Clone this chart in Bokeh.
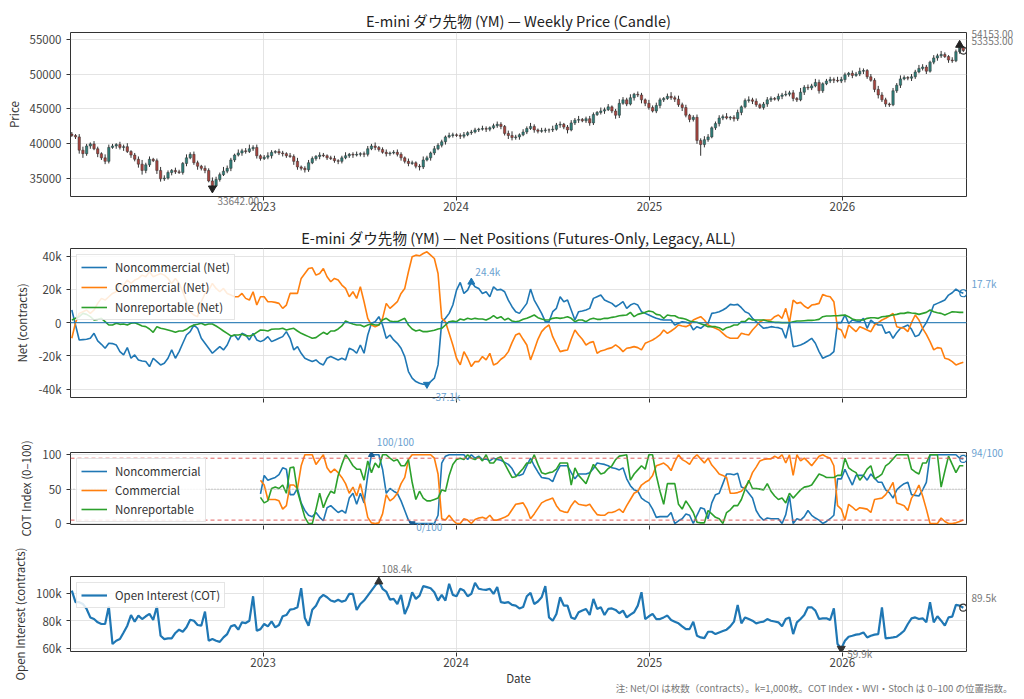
import pandas as pd
from bokeh.plotting import figure
from bokeh.models import (Range1d, FixedTicker, DatetimeTickFormatter, Span, Label,
                          Legend, LegendItem, CustomJSTickFormatter, LinearAxis, Title)
from bokeh.layouts import column
from bokeh.embed import file_html
from bokeh.resources import INLINE

FONT = "Noto Sans CJK JP"

# ---------------- data ----------------
start_date = "2022-01-04"
n_weeks = 242
cot_start = 51

close = [
    41200, 41000, 39100, 38600, 39700, 40000, 39300, 38600, 38000, 37500,
    39500, 39700, 39900, 39500, 39600, 38900, 38400, 37800, 37100, 36200,
    37000, 37800, 37600, 36200, 35000, 35100, 35900, 36200, 36000, 35900,
    37200, 38000, 38500, 37300, 36800, 36500, 36200, 34700, 34000, 34900,
    35600, 36100, 36500, 37700, 38400, 38700, 39000, 38900, 39300, 39500,
    38300, 37900, 38100, 38300, 38800, 38900, 38700, 38600, 38300, 38200,
    37500, 36700, 36500, 36300, 37300, 37900, 38200, 38400, 38300, 38000,
    37900, 37600, 37500, 38000, 38300, 38500, 38400, 38500, 38600, 38500,
    39300, 39700, 39500, 39200, 38800, 38600, 38700, 38800, 38500, 38000,
    37500, 37200, 37300, 36800, 36700, 37700, 38000, 38700, 39300, 39800,
    40300, 41000, 41200, 41300, 41200, 41100, 41300, 41600, 41700, 42000,
    42100, 42200, 42100, 42300, 42600, 42800, 42500, 41500, 41200, 40900,
    41000, 41300, 41700, 42200, 42500, 42000, 41800, 41900, 42000, 42000,
    42100, 42700, 42800, 42400, 42000, 43000, 43400, 43500, 43300, 43600,
    43000, 44200, 44500, 44700, 44900, 45300, 44700, 44100, 45800, 46300,
    45700, 46600, 47100, 47000, 46300, 45800, 45200, 44700, 45500, 46300,
    46500, 46800, 46600, 46400, 45600, 45200, 44100, 43500, 43800, 40500,
    39900, 40600, 41000, 42300, 42900, 43700, 43900, 43700, 43800, 43600,
    44500, 45300, 46200, 46300, 46100, 45600, 45200, 45700, 46300, 46500,
    46400, 46800, 47000, 47100, 47300, 46500, 46300, 47400, 48100, 48000,
    48300, 48800, 47600, 48600, 49000, 49200, 49100, 49000, 49200, 49900,
    50100, 49800, 50000, 50400, 50500, 49600, 49100, 47800, 47000, 46300,
    45700, 45600, 47600, 48400, 49300, 49500, 49400, 49600, 50300, 50800,
    51000, 50400, 51700, 52300, 52600, 52800, 52500, 52000, 51900, 53200,
    53800, 53353,
]
first_open = 41400
wick_up = [
    300, 200, 400, 500, 300, 200, 400, 300, 200, 500,
    400, 300, 200, 400, 300, 500, 200, 300, 400, 600,
    300, 400, 200, 300, 500, 400, 300, 200, 400, 300,
    200, 500, 300, 400, 300, 200, 400, 300, 500, 400,
    300, 600, 400, 300, 200, 500, 300, 400, 600, 300,
    400, 200, 300, 500, 300, 200, 400, 300, 200, 400,
    300, 500, 200, 300, 400, 300, 200, 400, 300, 200,
    300, 400, 200, 300, 500, 200, 300, 400, 200, 300,
    400, 300, 500, 200, 300, 400, 200, 300, 400, 300,
    200, 400, 300, 200, 300, 500, 300, 200, 400, 300,
    300, 200, 400, 300, 200, 300, 400, 200, 300, 300,
    200, 400, 300, 200, 300, 400, 300, 200, 400, 600,
    300, 200, 400, 300, 500, 300, 200, 400, 300, 200,
    500, 300, 400, 200, 300, 400, 300, 500, 200, 300,
    400, 300, 200, 500, 300, 400, 200, 300, 600, 400,
    300, 500, 200, 400, 300, 200, 500, 300, 400, 300,
    200, 400, 600, 300, 500, 300, 400, 200, 300, 400,
    300, 500, 400, 200, 300, 400, 300, 500, 200, 300,
    400, 200, 300, 500, 300, 400, 200, 300, 400, 300,
    200, 400, 300, 500, 300, 400, 200, 600, 300, 400,
    300, 500, 400, 200, 300, 400, 300, 500, 400, 300,
    200, 400, 300, 500, 300, 200, 400, 300, 500, 400,
    300, 200, 400, 300, 500, 300, 200, 400, 300, 500,
    400, 300, 200, 400, 300, 500, 300, 200, 400, 300,
    353, 200,
]
wick_dn = [
    200, 300, 500, 600, 300, 400, 200, 500, 300, 400,
    300, 200, 400, 300, 500, 200, 400, 300, 500, 600,
    400, 300, 200, 500, 400, 300, 200, 400, 300, 200,
    300, 400, 200, 300, 500, 300, 400, 200, 358, 200,
    300, 200, 300, 400, 300, 200, 400, 300, 200, 300,
    400, 300, 200, 300, 400, 200, 300, 400, 300, 200,
    500, 400, 300, 400, 300, 200, 300, 400, 200, 300,
    200, 300, 400, 300, 200, 300, 400, 200, 300, 400,
    300, 200, 400, 300, 200, 400, 300, 200, 300, 400,
    300, 400, 200, 300, 500, 300, 200, 400, 300, 200,
    300, 400, 200, 300, 200, 400, 300, 200, 300, 200,
    300, 200, 400, 300, 200, 300, 400, 300, 500, 400,
    300, 400, 200, 300, 200, 400, 300, 200, 300, 400,
    300, 200, 400, 300, 500, 200, 300, 400, 200, 300,
    400, 300, 200, 300, 400, 200, 300, 500, 400, 200,
    300, 200, 400, 300, 500, 400, 300, 200, 300, 400,
    300, 200, 300, 400, 300, 500, 300, 400, 300, 500,
    1600, 400, 300, 200, 300, 400, 300, 200, 300, 400,
    300, 400, 200, 300, 400, 300, 200, 300, 400, 300,
    200, 300, 400, 200, 300, 400, 300, 200, 400, 300,
    300, 200, 400, 300, 200, 300, 400, 200, 300, 400,
    300, 400, 200, 300, 400, 300, 200, 400, 500, 300,
    400, 300, 200, 300, 400, 200, 300, 400, 300, 200,
    300, 400, 200, 300, 400, 300, 200, 400, 300, 200,
    300, 200,
]

# Net positions, thousands of contracts
net_noncomm = [
    7.6, -1.4, -10.4, -10.2, -10.0, -9.4, -6.4, -11.0, -13.0, -15.4,
    -12.4, -12.6, -13.4, -17.4, -19.4, -15.0, -21.4, -19.4, -22.4, -23.0,
    -23.4, -26.4, -21.4, -23.4, -25.4, -24.4, -21.4, -16.4, -21.4, -17.4,
    -12.4, -7.4, -5.4, -1.4, -3.4, -9.4, -12.4, -15.4, -18.4, -16.4,
    -14.4, -16.4, -13.4, -8.4, -7.4, -10.4, -6.4, -7.4, -10.4, -6.4,
    -10.4, -11.4, -10.4, -8.4, -11.4, -10.4, -9.4, -8.4, -5.4, -9.4,
    -16.4, -14.4, -18.4, -21.4, -22.4, -23.4, -22.4, -24.4, -25.4, -21.4,
    -20.4, -21.4, -22.4, -21.4, -22.4, -15.4, -16.4, -18.4, -13.4, -18.4,
    -7.4, -0.4, 0.6, 3.6, -1.4, -9.4, -7.4, -10.4, -12.4, -15.4,
    -20.4, -29.4, -33.4, -35.4, -36.4, -37.0, -37.1, -35.4, -33.4, -25.4,
    0.6, 2.6, 5.6, 10.6, 19.6, 24.2, 17.6, 19.6, 24.4, 21.6,
    20.6, 17.6, 18.6, 15.6, 21.6, 19.6, 20.0, 18.6, 13.6, 9.6,
    6.6, 5.6, 8.6, 11.6, 20.2, 13.6, 9.6, 5.6, 0.6, 0.6,
    6.6, 8.6, 15.6, 12.6, 13.6, 7.6, 1.6, 6.6, 7.0, 7.6,
    8.6, 14.6, 15.6, 16.6, 13.6, 12.6, 11.6, 9.6, 11.0, 12.6,
    8.6, 10.6, 11.6, 10.6, 6.6, 5.6, 4.6, 3.6, 2.6, 2.0,
    1.6, 1.6, 1.6, -1.4, -0.4, 0.6, 0.2, -0.4, -4.4, -2.4,
    -3.4, -1.6, -0.4, 5.6, 6.0, 6.6, 7.6, 9.0, 11.0, 10.6,
    11.0, 9.0, 6.6, 5.6, 2.6, 0.6, -1.4, -3.4, -3.0, -2.4,
    -2.8, -3.0, -3.8, -9.4, 0.0, -14.4, -14.0, -13.4, -12.4, -11.0,
    -9.4, -12.4, -17.4, -21.4, -20.4, -19.4, -17.4, 0.0, 0.0, 4.6,
    -0.4, 1.6, 1.0, 0.6, 2.6, -3.4, 1.6, -0.4, -1.4, -1.4,
    -6.4, -5.4, -9.4, -6.0, -3.4, -2.4, -1.4, -4.0, -8.4, -7.4,
    -3.4, 0.0, 4.6, 10.6, 11.6, 12.6, 13.6, 16.6, 18.0, 20.2,
    18.6, 17.7,
]
net_comm = [
    -9.4, 0.0, 5.6, 6.6, 7.6, 5.6, 7.6, 11.6, 14.6, 13.6,
    15.6, 17.6, 18.6, 23.6, 22.6, 25.6, 23.6, 25.6, 26.6, 28.6,
    27.6, 30.6, 27.6, 28.6, 29.6, 28.6, 26.6, 23.6, 26.6, 23.6,
    18.6, 12.6, 6.6, 4.6, 3.6, 12.6, 17.6, 19.6, 23.6, 20.6,
    18.6, 20.6, 17.6, 16.6, 15.6, 15.6, 17.6, 14.6, 13.6, 18.6,
    10.6, 15.6, 15.6, 12.6, 12.6, 12.2, 11.6, 8.6, 10.6, 17.6,
    17.6, 17.6, 26.6, 29.6, 32.6, 33.0, 28.6, 29.6, 32.6, 27.6,
    24.6, 26.6, 25.6, 22.6, 20.6, 15.6, 18.6, 14.6, 21.6, 12.6,
    2.6, -1.4, -2.4, -1.4, 2.6, 11.6, 8.6, 10.6, 12.6, 17.6,
    20.6, 30.6, 39.6, 40.6, 40.2, 41.6, 42.6, 40.6, 38.6, 29.6,
    2.6, 0.6, -6.4, -13.4, -21.4, -25.4, -17.4, -21.4, -26.4, -23.4,
    -23.4, -20.4, -22.4, -18.4, -25.4, -24.4, -22.0, -20.4, -17.4, -12.0,
    -7.4, -6.4, -10.0, -13.4, -22.4, -16.4, -10.0, -5.4, -3.0, -1.4,
    -8.4, -13.0, -17.4, -16.8, -16.4, -10.0, -4.4, -7.4, -10.0, -13.4,
    -12.0, -11.4, -18.4, -17.0, -16.4, -15.6, -15.0, -13.4, -15.0, -17.4,
    -15.4, -15.0, -14.4, -15.0, -16.4, -12.4, -11.4, -10.4, -9.0, -7.4,
    -4.4, -6.4, -5.0, -3.4, -1.4, -2.0, -2.4, -1.4, 1.6, 2.6,
    3.6, 1.6, -1.4, -2.4, -3.4, -4.4, -6.4, -8.4, -9.4, -9.4,
    -9.4, -6.4, -7.0, -7.4, -4.4, -2.0, 0.6, 1.6, 1.6, 1.6,
    3.6, 4.6, 2.6, 8.6, 0.0, 13.6, 11.6, 12.2, 10.0, 8.6,
    10.6, 11.0, 11.6, 17.0, 16.0, 15.6, 12.6, -3.4, -4.4, -9.4,
    -1.4, -3.4, -5.4, -2.4, -3.4, -4.4, -5.4, -1.4, 0.0, 1.6,
    2.6, 4.0, 5.6, -2.4, -3.0, -3.4, -5.4, 0.0, 4.6, 1.6,
    -3.4, -7.0, -11.4, -16.4, -15.0, -15.4, -21.4, -22.0, -23.4, -25.4,
    -24.6, -23.8,
]
net_nonrep = [
    1.6, 2.6, 3.6, 5.6, 5.0, 3.6, 1.6, 2.0, 2.6, 0.6,
    -1.4, -1.4, -0.4, -1.0, -0.8, -1.4, -0.4, 0.0, -1.0, -2.0,
    -2.4, -3.8, -5.8, -2.4, -3.4, -3.8, -4.4, -5.0, -5.8, -5.0,
    -5.0, -4.0, -2.4, -1.4, -1.0, -0.4, -1.4, -0.8, -0.8, -2.0,
    -3.4, -5.0, -6.4, -8.0, -7.4, -7.4, -7.0, -7.8, -8.0, -7.4,
    -5.8, -4.4, -4.6, -5.0, -4.0, -3.8, -3.8, -3.4, -4.4, -3.8,
    -3.4, -5.0, -6.4, -7.4, -8.4, -9.4, -9.0, -7.4, -5.8, -7.0,
    -5.0, -5.0, -3.8, -2.0, 1.0, 0.0, -0.8, -1.4, -1.4, -2.4,
    -1.4, -0.8, -1.4, -1.4, 1.6, 2.6, 1.0, 0.6, 0.6, 1.6,
    2.6, -1.4, -3.8, -5.0, -4.4, -5.4, -5.4, -5.0, -4.6, -3.8,
    -3.4, -1.4, 0.6, 1.0, 0.6, 2.2, 1.6, 2.6, 2.0, 2.6,
    2.2, 2.2, 1.6, 2.6, 4.2, 2.6, 3.6, 1.6, 2.6, 1.0,
    0.6, 1.0, 2.0, 2.6, 3.6, 4.6, 3.0, 2.2, 1.6, 1.8,
    2.6, 3.0, 2.6, 3.0, 3.6, 2.6, 0.6, 1.6, 1.6, 0.6,
    2.0, 2.6, 2.0, 2.0, 2.6, 2.6, 3.2, 3.6, 4.2, 4.4,
    4.6, 6.2, 3.6, 5.0, 5.6, 6.2, 7.0, 6.6, 5.0, 4.6,
    2.6, 4.6, 4.2, 4.2, 3.0, 2.6, 2.0, 1.0, 0.6, 0.2,
    -0.6, -1.4, -2.4, -2.4, -2.4, -3.0, -4.4, -3.0, -2.4, -1.4,
    -1.4, 0.6, 0.6, 2.6, 1.6, 1.6, 1.6, 1.6, 1.0, 0.6,
    0.2, 0.2, 0.0, 0.0, 0.0, 0.6, 1.0, 1.0, 1.2, 1.4,
    1.4, 1.6, 2.0, 3.6, 4.0, 4.0, 4.2, 4.2, 4.4, 4.6,
    3.6, 2.2, 1.6, 1.6, 1.6, 2.6, 3.0, 3.0, 2.6, 3.6,
    3.8, 4.2, 4.6, 5.0, 5.6, 5.6, 6.2, 5.8, 5.6, 5.0,
    5.6, 6.2, 7.6, 6.6, 6.0, 5.6, 4.6, 5.6, 6.6, 6.4,
    6.2, 6.2,
]

# COT Index (0-100), from week index cot_start
cot_noncomm = [
    43, 70, 63, 65, 67, 71, 81, 79, 42,
    42, 51, 30, 19, 12, 10, 16, 9, 4, 23,
    26, 21, 16, 19, 15, 37, 44, 28, 44, 30,
    70, 100, 100, 100, 79, 44, 51, 47, 44, 33,
    19, 5, 0, 0, 0, 0, 0, 0, 0, 12,
    88, 98, 100, 100, 100, 100, 100, 93, 100, 95,
    98, 93, 94, 91, 95, 93, 92, 89, 86, 80,
    70, 70, 72, 84, 95, 84, 75, 67, 66, 65,
    61, 74, 84, 84, 84, 74, 65, 72, 72, 72,
    74, 80, 88, 87, 86, 84, 81, 80, 78, 81,
    65, 55, 49, 47, 37, 33, 30, 21, 9, 10,
    10, 10, 16, 0, 4, 7, 14, 12, 0, 12,
    23, 21, 7, 30, 42, 44, 58, 72, 72, 71,
    73, 53, 51, 44, 37, 19, 10, 5, 8, 7,
    7, 7, 0, 13, 40, 0, 7, 5, 10, 19,
    12, 8, 5, 0, 3, 7, 12, 65, 65, 79,
    67, 56, 70, 70, 70, 63, 72, 66, 60, 60,
    49, 45, 37, 49, 54, 58, 60, 42, 41, 40,
    49, 60, 100, 100, 100, 100, 100, 100, 100, 100,
    95, 94,
]
cot_comm = [
    63, 56, 35, 35, 35, 33, 21, 26, 56,
    56, 51, 84, 100, 100, 100, 86, 93, 100, 81,
    74, 79, 74, 67, 58, 44, 53, 40, 58, 35,
    9, 1, 0, 1, 14, 42, 33, 37, 44, 58,
    67, 93, 100, 100, 100, 100, 100, 100, 95, 72,
    7, 5, 12, 5, 0, 0, 7, 5, 0, 6,
    8, 9, 7, 12, 5, 5, 7, 9, 12, 20,
    28, 29, 30, 21, 7, 14, 22, 30, 33, 35,
    37, 26, 19, 17, 16, 26, 33, 28, 27, 26,
    28, 20, 13, 12, 12, 16, 16, 18, 21, 16,
    26, 35, 44, 47, 56, 60, 63, 70, 84, 86,
    88, 84, 77, 90, 100, 93, 90, 86, 95, 100,
    94, 88, 95, 85, 79, 72, 70, 67, 44, 44,
    45, 47, 53, 60, 74, 82, 91, 93, 94, 94,
    98, 95, 100, 88, 100, 70, 100, 91, 95, 90,
    84, 91, 98, 100, 97, 95, 84, 26, 21, 5,
    28, 24, 19, 23, 22, 21, 16, 35, 36, 37,
    42, 50, 60, 30, 28, 26, 19, 37, 45, 56,
    40, 21, 0, 0, 0, 8, 3, 0, 0, 1,
    3, 5,
]
cot_nonrep = [
    38, 30, 33, 51, 53, 51, 56, 44, 81,
    82, 47, 28, 9, 0, 0, 21, 44, 23, 37,
    47, 44, 70, 86, 100, 93, 84, 79, 79, 63,
    91, 74, 88, 81, 100, 100, 95, 91, 93, 84,
    84, 93, 60, 35, 47, 37, 33, 33, 35, 37,
    49, 47, 70, 86, 93, 95, 93, 100, 95, 93,
    97, 91, 100, 88, 88, 95, 97, 87, 77, 67,
    68, 74, 80, 88, 88, 100, 86, 74, 72, 74,
    75, 79, 88, 88, 88, 56, 81, 70, 64, 58,
    72, 86, 79, 72, 74, 80, 84, 93, 98, 99,
    100, 63, 72, 78, 84, 79, 100, 100, 70, 47,
    28, 58, 58, 58, 28, 21, 33, 25, 16, 2,
    1, 1, 19, 14, 9, 7, 0, 16, 20, 26,
    26, 35, 50, 63, 51, 51, 50, 49, 58, 47,
    40, 35, 37, 30, 44, 37, 43, 49, 53, 54,
    56, 64, 72, 70, 67, 67, 67, 70, 70, 95,
    81, 77, 74, 63, 70, 79, 84, 65, 68, 72,
    84, 88, 94, 100, 100, 100, 100, 79, 75, 72,
    88, 88, 100, 100, 100, 53, 76, 98, 86, 74,
    84, 84,
]

# Open interest, thousands of contracts
open_interest = [
    101.9, 93.5, 93.5, 92.2, 88.6, 82.5, 81.3, 78.9, 77.7, 77.7,
    90.5, 63.2, 65.6, 66.8, 71.6, 76.5, 84.2, 79.4, 83.8, 81.3,
    83.3, 85.0, 80.6, 90.5, 69.2, 66.8, 67.3, 67.3, 71.2, 73.6,
    72.1, 75.3, 80.8, 80.1, 77.0, 76.5, 86.7, 65.6, 66.8, 65.6,
    64.8, 68.0, 70.4, 76.0, 77.0, 73.6, 78.9, 78.4, 80.1, 97.8,
    72.8, 74.0, 77.7, 76.0, 79.6, 75.3, 77.0, 83.3, 84.2, 88.1,
    88.6, 89.8, 103.6, 82.0, 76.5, 88.1, 91.0, 96.4, 98.8, 97.1,
    94.7, 93.9, 95.2, 93.9, 94.7, 99.5, 99.5, 87.9, 92.2, 94.7,
    98.3, 101.9, 105.5, 108.4, 103.2, 101.2, 95.4, 95.9, 92.2, 98.8,
    85.0, 91.0, 100.7, 95.9, 98.3, 105.1, 104.4, 103.6, 100.7, 94.7,
    98.8, 94.7, 106.8, 98.8, 97.8, 103.2, 101.9, 97.8, 99.5, 107.5,
    103.2, 102.7, 102.4, 103.2, 99.5, 104.4, 93.5, 93.0, 93.5, 91.5,
    91.0, 89.0, 90.0, 97.8, 100.2, 92.2, 94.0, 97.0, 105.1, 82.5,
    80.1, 85.0, 97.1, 91.0, 91.0, 82.5, 81.3, 86.2, 87.5, 88.6,
    84.2, 95.9, 88.6, 89.8, 84.2, 88.6, 89.0, 87.9, 85.5, 87.4,
    82.5, 84.5, 86.2, 91.0, 100.7, 81.3, 83.3, 85.0, 81.3, 81.3,
    82.5, 83.8, 80.6, 79.4, 78.2, 76.0, 74.0, 74.0, 79.4, 69.2,
    68.0, 67.5, 72.1, 72.1, 70.4, 71.6, 72.6, 73.6, 76.0, 79.4,
    91.5, 78.2, 82.5, 81.3, 80.1, 78.2, 79.0, 79.4, 81.3, 80.1,
    79.5, 78.9, 76.0, 81.3, 82.5, 70.4, 78.9, 81.3, 84.2, 89.8,
    89.8, 87.4, 81.3, 81.8, 81.8, 80.6, 89.0, 63.2, 59.9, 65.6,
    68.5, 69.2, 70.0, 70.4, 71.6, 68.0, 69.2, 70.0, 70.4, 89.8,
    67.3, 67.6, 68.0, 68.5, 70.5, 72.8, 77.7, 81.8, 82.5, 81.3,
    81.8, 78.9, 93.5, 78.9, 83.3, 80.1, 76.5, 82.5, 83.0, 91.5,
    91.0, 89.5,
]

year_ticks = ["2023-01-01", "2024-01-01", "2025-01-01", "2026-01-01"]

title_price = "E-mini ダウ先物 (YM) — Weekly Price (Candle)"
title_net = "E-mini ダウ先物 (YM) — Net Positions (Futures-Only, Legacy, ALL)"
footnote = "注: Net/OI は枚数（contracts）。k=1,000枚。COT Index・WVI・Stoch は 0–100 の位置指数。"

# ---------------- layout constants ----------------
FIG_W = 1022
FRAME_L = 70
FRAME_W = 896
DAY = 86400000.0
EM_H = 1.45          # text box height / font size for this font

dates = pd.date_range(start_date, periods=n_weeks, freq="7D")
xs = [int(d.value // 10**6) for d in dates]
n = min(len(close), len(xs), len(wick_up), len(wick_dn))
xs_p = xs[:n]
opens = [first_open] + close[:n - 1]
highs = [max(o, c) + w for o, c, w in zip(opens, close[:n], wick_up)]
lows = [min(o, c) - w for o, c, w in zip(opens, close[:n], wick_dn)]

C_BLUE, C_ORANGE, C_GREEN = "#1f77b4", "#ff7f0e", "#2ca02c"
C_UP, C_DN = "#2f7f7a", "#a8433d"
C_ANN = "#6a9fd0"
C_GRAY = "#777777"

X0 = xs[0] - 2.5 * DAY
X1 = xs[-1] + 6 * DAY
xr = Range1d(X0, X1)
MS_PER_PX = (X1 - X0) / FRAME_W
yt_ms = [int(pd.Timestamp(t).value // 10**6) for t in year_ticks]


def px_of(x_ms):
    return (x_ms - X0) / MS_PER_PX


def make_fig(h, btop, bbot, y0, y1, yticks, ylabel, title=None, title_c=12.0,
             xlabels=True):
    p = figure(width=FIG_W, height=h, x_axis_type="datetime", x_range=xr,
               y_range=Range1d(y0, y1), output_backend="svg", toolbar_location=None,
               min_border_left=FRAME_L, min_border_right=FIG_W - FRAME_L - FRAME_W,
               min_border_top=btop, min_border_bottom=bbot,
               background_fill_color="white", border_fill_color="white")
    if title:
        p.title.text = title
        p.title.text_font = FONT
        p.title.text_font_size = "14.6px"
        p.title.text_font_style = "normal"
        p.title.text_color = "#222"
        p.title.align = "center"
        p.title.vertical_align = "middle"
        p.title.standoff = max(0.0, 2 * title_c - 2 - EM_H * 14.6)
    p.outline_line_color = "#333"
    p.outline_line_width = 1
    p.xaxis.ticker = FixedTicker(ticks=yt_ms)
    p.xgrid.ticker = FixedTicker(ticks=yt_ms)
    if xlabels:
        p.xaxis.formatter = DatetimeTickFormatter(
            years="%Y", months="%Y", days="%Y", hours="%Y", hourmin="%Y",
            minutes="%Y", minsec="%Y", seconds="%Y", milliseconds="%Y",
            microseconds="%Y")
    else:
        p.xaxis.formatter = CustomJSTickFormatter(code="return ''")
    p.yaxis.ticker = FixedTicker(ticks=yticks)
    p.yaxis.axis_label = ylabel
    for ax in p.xaxis + p.yaxis:
        ax.axis_line_color = None
        ax.major_tick_line_color = "#333"
        ax.major_tick_out = 4
        ax.major_tick_in = 0
        ax.minor_tick_line_color = None
        ax.major_label_text_font = FONT
        ax.major_label_text_font_size = "11.5px"
        ax.major_label_text_color = "#444"
        ax.major_label_standoff = 5
        ax.axis_label_text_font = FONT
        ax.axis_label_text_font_size = "11.5px"
        ax.axis_label_text_font_style = "normal"
        ax.axis_label_text_color = "#333"
        ax.axis_label_standoff = 5
    for ax in p.xaxis:
        ax.major_label_standoff = 1 if xlabels else 0
        ax.axis_label_standoff = 0
    p.grid.grid_line_color = "#dddddd"
    p.grid.grid_line_width = 0.8
    return p


def label_in(p, x, y, text, dx, dy, color, size="10px"):
    p.add_layout(Label(x=x, y=y, text=text, x_offset=dx, y_offset=dy,
                       text_font=FONT, text_font_size=size, text_color=color,
                       text_baseline="middle", text_align="left"))


def side_axis_text(p, side, items, color, standoff, fs=10):
    """Texts placed outside the frame as the only tick labels of an extra axis."""
    ticks = [pos for pos, _ in items]
    ax = LinearAxis(ticker=FixedTicker(ticks=ticks),
                    major_label_overrides={pos: txt for pos, txt in items})
    ax.axis_line_color = None
    ax.major_tick_line_color = None
    ax.major_tick_out = 0
    ax.major_tick_in = 0
    ax.minor_tick_line_color = None
    ax.major_label_standoff = standoff
    ax.major_label_text_font = FONT
    ax.major_label_text_font_size = f"{fs}px"
    ax.major_label_text_color = color
    p.add_layout(ax, side)
    return ax


def edge_title(p, side, text, x_off, color, valign, fs=10, align="left", first=True):
    """Zero-height title used to place a small text just outside the frame."""
    t = Title(text=text, align=align, offset=x_off, vertical_align=valign,
              text_font=FONT, text_font_size=f"{fs}px", text_font_style="normal",
              text_color=color)
    try:
        t.standoff = -(2 + EM_H * fs)
    except Exception:
        t.standoff = 0
    lst = list(getattr(p, side))
    if first:
        setattr(p, side, [t] + lst)
    else:
        setattr(p, side, lst + [t])


def style_legend(lg, spacing):
    lg.location = "top_left"
    lg.margin = 6
    lg.padding = 4
    lg.spacing = spacing
    lg.label_height = 14
    lg.glyph_height = 14
    lg.glyph_width = 26
    lg.label_standoff = 8
    lg.label_text_font = FONT
    lg.label_text_font_size = "11.5px"
    lg.label_text_color = "#333"
    lg.border_line_color = "#cccccc"
    lg.background_fill_alpha = 0.85


# ---------------- panel 1: price ----------------
Y1 = (32470, 55940)
H1, T1, B1 = 223, 32, 27
p1 = make_fig(H1, T1, B1, Y1[0], Y1[1], [35000, 40000, 45000, 50000, 55000], "Price",
              title=title_price, title_c=12.7)
dpp1 = (Y1[1] - Y1[0]) / (H1 - T1 - B1)
p1.segment(xs_p, highs, xs_p, lows, line_color="#333", line_width=1)
body_top = [max(o, c) for o, c in zip(opens, close[:n])]
body_bot = [min(o, c) for o, c in zip(opens, close[:n])]
colors = [C_UP if c >= o else C_DN for o, c in zip(opens, close[:n])]
p1.vbar(x=xs_p, top=body_top, bottom=body_bot, width=4.5 * DAY, fill_color=colors,
        line_color="#333", line_width=0.5)
i_lo = min(range(n), key=lambda k: lows[k])
i_hi = max(range(n), key=lambda k: highs[k])
p1.scatter([xs_p[i_lo]], [lows[i_lo]], marker="inverted_triangle", size=8, color="#222")
p1.scatter([xs_p[i_hi]], [highs[i_hi]], marker="triangle", size=8, color="#222")
p1.scatter([xs_p[-1]], [close[n - 1]], marker="circle", size=7, fill_color=None,
           line_color="#333", line_width=1.2)
edge_title(p1, "below", f"{lows[i_lo]:.2f}", px_of(xs_p[i_lo]) + 5, C_GRAY, "bottom")
side_axis_text(p1, "right",
               [(int(highs[i_hi] + 11 * dpp1), f"{highs[i_hi]:.2f}"),
                (int(close[n - 1] + 10 * dpp1), f"{close[n - 1]:.2f}")], C_GRAY, 5)

# ---------------- panel 2: net positions ----------------
Y2 = (-45, 44.6)
H2, T2, B2 = 207, 25, 33
p2 = make_fig(H2, T2, B2, Y2[0], Y2[1], [-40, -20, 0, 20, 40], "Net (contracts)",
              title=title_net, title_c=11.6, xlabels=False)
dpp2 = (Y2[1] - Y2[0]) / (H2 - T2 - B2)
p2.yaxis.major_label_overrides = {-40: "-40k", -20: "-20k", 0: "0", 20: "20k", 40: "40k"}
p2.add_layout(Span(location=0, dimension="width", line_color=C_BLUE, line_width=1.2,
                   line_alpha=0.85))
r_nc = p2.line(xs[:len(net_noncomm)], net_noncomm, line_color=C_BLUE, line_width=1.6)
r_c = p2.line(xs[:len(net_comm)], net_comm, line_color=C_ORANGE, line_width=1.6)
r_nr = p2.line(xs[:len(net_nonrep)], net_nonrep, line_color=C_GREEN, line_width=1.6)
k_mx = max(range(len(net_noncomm)), key=lambda k: net_noncomm[k])
k_mn = min(range(len(net_noncomm)), key=lambda k: net_noncomm[k])
kl = len(net_noncomm) - 1
p2.scatter([xs[k_mx]], [net_noncomm[k_mx]], marker="triangle", size=7, color=C_BLUE)
p2.scatter([xs[k_mn]], [net_noncomm[k_mn]], marker="inverted_triangle", size=7, color=C_BLUE)
p2.scatter([xs[kl]], [net_noncomm[kl]], marker="circle", size=7, fill_color=None,
           line_color=C_BLUE, line_width=1.2)
label_in(p2, xs[k_mx], net_noncomm[k_mx], f"{net_noncomm[k_mx]:.1f}k", 4, 11, C_ANN)
edge_title(p2, "below", f"{net_noncomm[k_mn]:.1f}k", px_of(xs[k_mn]) + 5, C_ANN, "top")
side_axis_text(p2, "right", [(round(net_noncomm[kl] + 10 * dpp2, 2),
                              f"{net_noncomm[kl]:.1f}k")], C_ANN, 5)
lg2 = Legend(items=[LegendItem(label="Noncommercial (Net)", renderers=[r_nc]),
                    LegendItem(label="Commercial (Net)", renderers=[r_c]),
                    LegendItem(label="Nonreportable (Net)", renderers=[r_nr])])
style_legend(lg2, 4)
p2.add_layout(lg2)

# ---------------- panel 3: COT index ----------------
Y3 = (-1.4, 103.3)
H3, T3, B3 = 115, 19, 21
p3 = make_fig(H3, T3, B3, Y3[0], Y3[1], [0, 50, 100], "COT Index (0–100)", xlabels=False)
dpp3 = (Y3[1] - Y3[0]) / (H3 - T3 - B3)
xc = xs[cot_start:]
p3.add_layout(Span(location=95, dimension="width", line_color="#e06060", line_width=1,
                   line_dash="4 3"))
p3.add_layout(Span(location=5, dimension="width", line_color="#e06060", line_width=1,
                   line_dash="4 3"))
p3.add_layout(Span(location=50, dimension="width", line_color="#aaaaaa", line_width=1,
                   line_dash="1 2"))
r3a = p3.line(xc[:len(cot_noncomm)], cot_noncomm, line_color=C_BLUE, line_width=1.6)
r3b = p3.line(xc[:len(cot_comm)], cot_comm, line_color=C_ORANGE, line_width=1.6)
r3c = p3.line(xc[:len(cot_nonrep)], cot_nonrep, line_color=C_GREEN, line_width=1.6)
j_mx = max(range(len(cot_noncomm)), key=lambda k: cot_noncomm[k])
j_mn = min(range(len(cot_noncomm)), key=lambda k: cot_noncomm[k])
jl = len(cot_noncomm) - 1
p3.scatter([xc[j_mx]], [cot_noncomm[j_mx]], marker="triangle", size=6, color="#1a5e96")
p3.scatter([xc[j_mn]], [cot_noncomm[j_mn]], marker="inverted_triangle", size=6,
           color="#1a5e96")
p3.scatter([xc[jl]], [cot_noncomm[jl]], marker="circle", size=7, fill_color=None,
           line_color=C_BLUE, line_width=1.2)
side_axis_text(p3, "above", [(int(xc[j_mx] + 24 * MS_PER_PX), f"{cot_noncomm[j_mx]}/100")],
               C_ANN, 4)
edge_title(p3, "below", f"{cot_noncomm[j_mn]}/100", px_of(xc[j_mn]) + 4, C_ANN, "bottom")
side_axis_text(p3, "right", [(round(min(cot_noncomm[jl] + 11 * dpp3, Y3[1] - 0.1), 2),
                              f"{cot_noncomm[jl]}/100")], C_ANN, 5)
lg3 = Legend(items=[LegendItem(label="Noncommercial", renderers=[r3a]),
                    LegendItem(label="Commercial", renderers=[r3b]),
                    LegendItem(label="Nonreportable", renderers=[r3c])])
style_legend(lg3, 3)
p3.add_layout(lg3)

# ---------------- panel 4: open interest ----------------
Y4 = (57.8, 112.1)
H4, T4, B4 = 153, 31, 47
p4 = make_fig(H4, T4, B4, Y4[0], Y4[1], [60, 80, 100], "Open Interest (contracts)")
dpp4 = (Y4[1] - Y4[0]) / (H4 - T4 - B4)
p4.yaxis.major_label_overrides = {60: "60k", 80: "80k", 100: "100k"}
p4.xaxis.axis_label = "Date"
xo = xs[:len(open_interest)]
r4 = p4.line(xo, open_interest, line_color=C_BLUE, line_width=2.2)
m_mx = max(range(len(open_interest)), key=lambda k: open_interest[k])
m_mn = min(range(len(open_interest)), key=lambda k: open_interest[k])
ml = len(open_interest) - 1
p4.scatter([xo[m_mx]], [open_interest[m_mx]], marker="triangle", size=8, color="#333")
p4.scatter([xo[m_mn]], [open_interest[m_mn]], marker="inverted_triangle", size=8, color="#333")
p4.scatter([xo[ml]], [open_interest[ml]], marker="circle", size=7, fill_color=None,
           line_color="#333", line_width=1.2)
side_axis_text(p4, "above", [(int(xo[m_mx] + 18 * MS_PER_PX), f"{open_interest[m_mx]:.1f}k")],
               C_GRAY, 1)
edge_title(p4, "below", f"{open_interest[m_mn]:.1f}k", px_of(xo[m_mn]) + 6, C_GRAY, "bottom")
side_axis_text(p4, "right", [(round(open_interest[ml] + 10 * dpp4, 2),
                              f"{open_interest[ml]:.1f}k")], C_GRAY, 5)
lg4 = Legend(items=[LegendItem(label="Open Interest (COT)", renderers=[r4])])
style_legend(lg4, 4)
p4.add_layout(lg4)
edge_title(p4, "below", footnote, -(1012 - (FRAME_L + FRAME_W)), C_GRAY, "top", fs=9.5,
           align="right", first=False)

layout = column(p1, p2, p3, p4)
open("out.html", "w").write(file_html(layout, INLINE))
